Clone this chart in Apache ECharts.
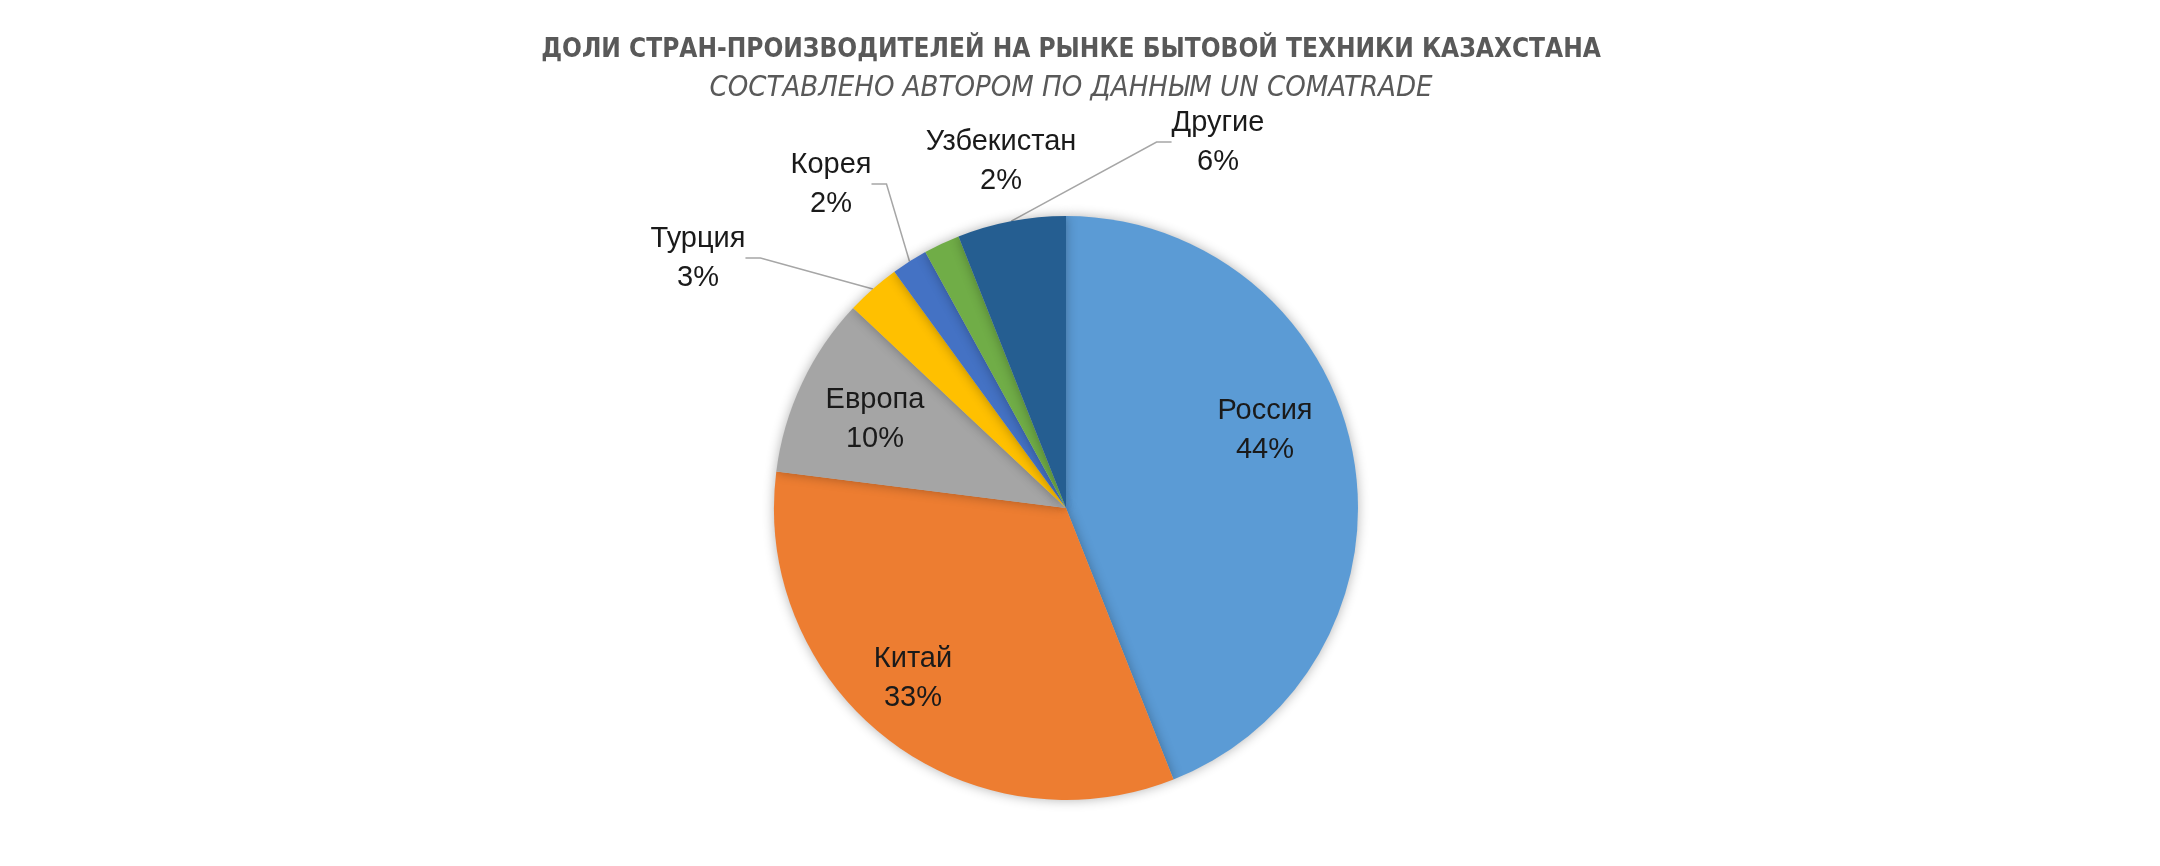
<!DOCTYPE html>
<html>
<head>
<meta charset="utf-8">
<script src="https://cdn.jsdelivr.net/npm/echarts@6/dist/echarts.min.js"></script>
<style>
  html, body { margin: 0; padding: 0; background: #fff; }
  #chart { width: 2160px; height: 866px; }
</style>
</head>
<body>
<div id="chart"></div>
<script>
// shares of producer countries, %
var countries = ['Россия', 'Китай', 'Европа', 'Турция', 'Корея', 'Узбекистан', 'Другие'];
var shares = [44, 33, 10, 3, 2, 2, 6];
var colors = ['#5B9BD5', '#ED7D31', '#A5A5A5', '#FFC000', '#4472C4', '#70AD47', '#255E91'];

// where excel put each label (label centre, px) and whether it gets a leader line
var labelSpots = [
    [1265, 430, false],
    [913, 678, false],
    [875, 419, false],
    [698, 258, true],
    [831, 184, true],
    [1001, 161, false],
    [1218, 142, true]
];

var myChart = echarts.init(document.getElementById('chart'));

var pieData = countries.map(function (name, i) {
    return {
        name: name,
        value: shares[i],
        itemStyle: { color: colors[i] },
        labelLine: { show: labelSpots[i][2] }
    };
});

var titleFont = '"Liberation Sans Narrow", "DejaVu Sans Condensed", "Liberation Sans"';

var option = {
    backgroundColor: '#fff',
    title: [
        {
            text: 'ДОЛИ СТРАН-ПРОИЗВОДИТЕЛЕЙ НА РЫНКЕ БЫТОВОЙ ТЕХНИКИ КАЗАХСТАНА',
            left: 1066,
            textAlign: 'center',
            top: 32,
            textStyle: {
                fontFamily: titleFont,
                fontWeight: 'bold',
                fontSize: 26,
                color: '#595959'
            }
        },
        {
            text: 'СОСТАВЛЕНО АВТОРОМ ПО ДАННЫМ UN COMATRADE',
            left: 1066,
            textAlign: 'center',
            top: 69,
            textStyle: {
                fontFamily: titleFont,
                fontStyle: 'italic',
                fontWeight: 'normal',
                fontSize: 29,
                color: '#595959'
            }
        }
    ],
    series: [
        {
            type: 'pie',
            center: [1066, 508],
            radius: 292,
            startAngle: 90,
            clockwise: true,
            avoidLabelOverlap: false,
            animation: false,
            data: pieData,
            itemStyle: {
                borderWidth: 0,
                shadowBlur: 12,
                shadowColor: 'rgba(0,0,0,0.3)'
            },
            label: {
                show: true,
                position: 'outside',
                formatter: function (p) {
                    return p.name + '\n' + Math.round(p.percent) + '%';
                },
                fontFamily: '"Liberation Sans", Arial, sans-serif',
                fontSize: 29,
                lineHeight: 39,
                color: '#1a1a1a',
                align: 'center'
            },
            labelLine: {
                lineStyle: { color: '#A6A6A6', width: 1.5 },
                length: 20,
                length2: 15
            },
            labelLayout: function (params) {
                var s = labelSpots[params.dataIndex];
                return {
                    x: s[0],
                    y: s[1],
                    align: 'center',
                    verticalAlign: 'middle'
                };
            }
        }
    ]
};

myChart.setOption(option);
</script>
</body>
</html>
